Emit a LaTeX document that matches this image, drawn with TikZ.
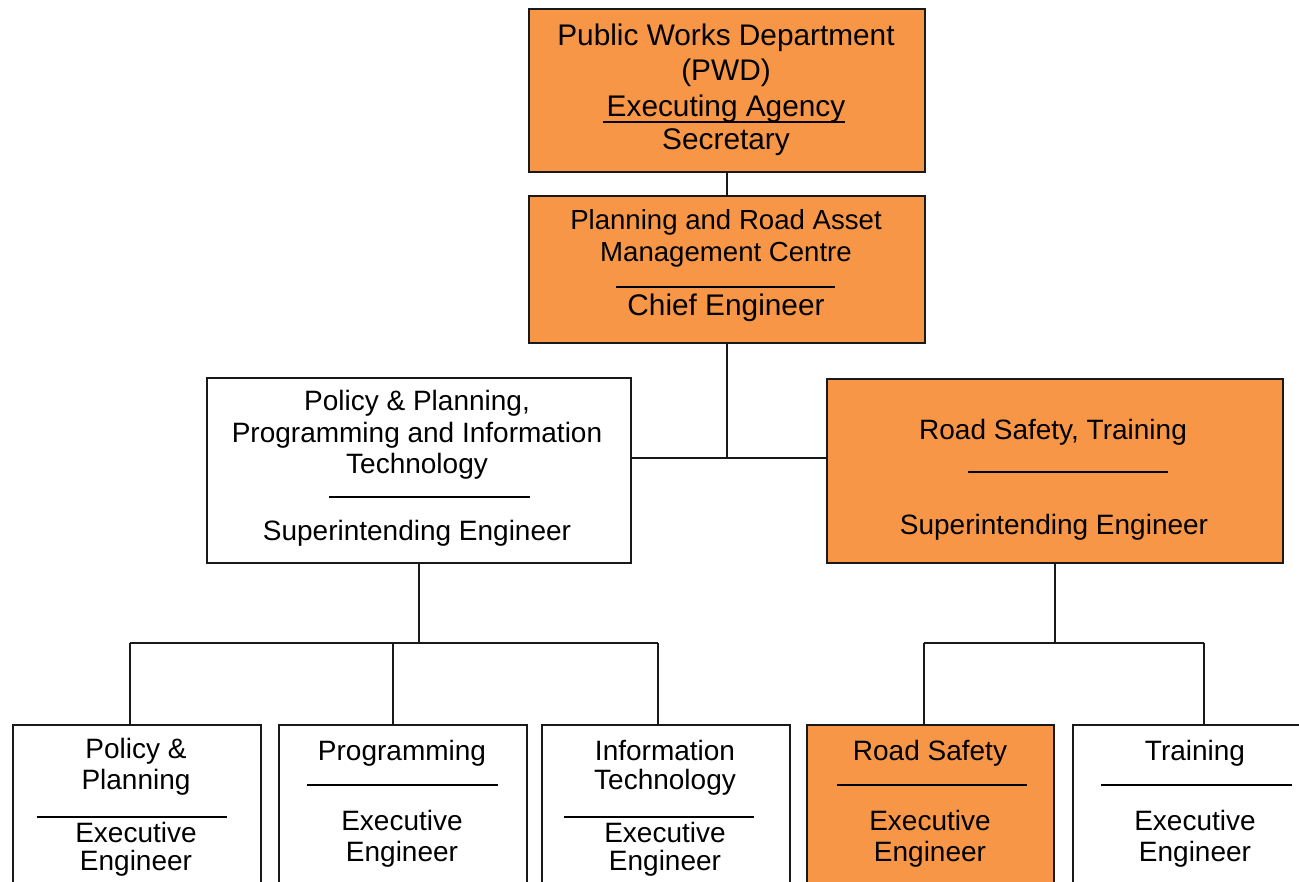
\documentclass[tikz,border=0pt]{standalone}
\usepackage{fontspec}
\setmainfont{Liberation Sans}
\definecolor{pwdorange}{RGB}{247,150,70}
\definecolor{edge}{RGB}{25,25,25}
\begin{document}
\begin{tikzpicture}[x=1pt,y=-1pt,
  box/.style={draw=edge, line width=2pt, inner sep=0pt, anchor=north west, fill=white},
  orng/.style={fill=pwdorange},
  txt/.style={anchor=base, inner sep=0pt, text=black, font=\fontsize{28}{34}\selectfont},
  big/.style={font=\fontsize{29.8}{34}\selectfont},
  small/.style={font=\fontsize{27.6}{32}\selectfont},
  conn/.style={line width=2pt, draw=edge},
  sepline/.style={line width=1.7pt, draw=black}]
\clip (0,0) rectangle (1299,882);
\fill[white] (0,0) rectangle (1299,882);

% boxes
\node[box,orng,minimum width=396pt,minimum height=163pt] (pwd) at (528,8) {};
\node[box,orng,minimum width=396pt,minimum height=147pt] (prac) at (528,195) {};
\node[box,minimum width=424pt,minimum height=185pt] (ppit) at (206,377) {};
\node[box,orng,minimum width=456pt,minimum height=184pt] (rst) at (826,378) {};
\node[box,minimum width=248pt,minimum height=200pt] (b1) at (12,724) {};
\node[box,minimum width=248pt,minimum height=200pt] (b2) at (278,724) {};
\node[box,minimum width=248pt,minimum height=200pt] (b3) at (541,724) {};
\node[box,orng,minimum width=247pt,minimum height=200pt] (b4) at (806,724) {};
\node[box,minimum width=248pt,minimum height=200pt] (b5) at (1072,724) {};

% top box text
\node[txt,big] (t1a) at (726,45.5) {Public Works Department};
\node[txt,big] (t1b) at (726,81) {(PWD)};
\node[txt,big] (t1c) at (726,116.5) {Executing Agency};
\node[txt,big] (t1d) at (726,150) {Secretary};
\draw[line width=1.8pt] (602.5,121.7) -- (845,121.7);

% second box text
\node[txt,small] (t2a) at (726,230) {Planning and Road Asset};
\node[txt,small] (t2b) at (726,261.5) {Management Centre};
\draw[sepline] (616,287) -- (835,287);
\node[txt,big] (t2c) at (726,316) {Chief Engineer};

% left middle
\node[txt] (t3a) at (417,411) {Policy \& Planning,};
\node[txt] (t3b) at (417,442.5) {Programming and Information};
\node[txt] (t3c) at (417,473) {Technology};
\draw[sepline] (329,496.7) -- (530,496.7);
\node[txt] (t3d) at (417,540.5) {Superintending Engineer};

% right middle
\node[txt] (t4a) at (1053,440) {Road Safety, Training};
\draw[sepline] (968,472) -- (1168,472);
\node[txt] (t4d) at (1054,534) {Superintending Engineer};

% bottom row
\node[txt] (b1a) at (136,758) {Policy \&};
\node[txt] (b1b) at (136,789) {Planning};
\draw[sepline] (36.5,816.7) -- (227,816.7);
\node[txt] (b1c) at (136,842) {Executive};
\node[txt] (b1d) at (136,870) {Engineer};

\node[txt] (b2a) at (402,760) {Programming};
\draw[sepline] (307,785) -- (497.5,785);
\node[txt] (b2c) at (402,830.5) {Executive};
\node[txt] (b2d) at (402,861) {Engineer};

\node[txt] (b3a) at (665,760) {Information};
\node[txt] (b3b) at (665,789) {Technology};
\draw[sepline] (564,816.7) -- (754,816.7);
\node[txt] (b3c) at (665,842) {Executive};
\node[txt] (b3d) at (665,870) {Engineer};

\node[txt] (b4a) at (930,760) {Road Safety};
\draw[sepline] (837,785) -- (1027,785);
\node[txt] (b4c) at (930,830.5) {Executive};
\node[txt] (b4d) at (930,861) {Engineer};

\node[txt] (b5a) at (1195,760) {Training};
\draw[sepline] (1101,785) -- (1292,785);
\node[txt] (b5c) at (1195,830.5) {Executive};
\node[txt] (b5d) at (1195,861) {Engineer};

% connectors
\coordinate (j1) at (725,458);
\draw[conn] (pwd.south) -- (prac.north);
\draw[conn] (prac.south) -- (prac.south |- j1);
\draw[conn] (ppit.east |- j1) -- (rst.west |- j1);

\coordinate (c1) at (130,643);
\coordinate (c2) at (393,643);
\coordinate (c3) at (657.5,643);
\coordinate (c4) at (923.5,643);
\coordinate (c5) at (1203.5,643);
\draw[conn] (ppit.south) -- (ppit.south |- c1);
\draw[conn] (c1) -- (c3);
\draw[conn] (c1) -- (c1 |- b1.north);
\draw[conn] (c2) -- (c2 |- b2.north);
\draw[conn] (c3) -- (c3 |- b3.north);
\draw[conn] (rst.south) -- (rst.south |- c4);
\draw[conn] (c4) -- (c5);
\draw[conn] (c4) -- (c4 |- b4.north);
\draw[conn] (c5) -- (c5 |- b5.north);
\end{tikzpicture}
\end{document}
